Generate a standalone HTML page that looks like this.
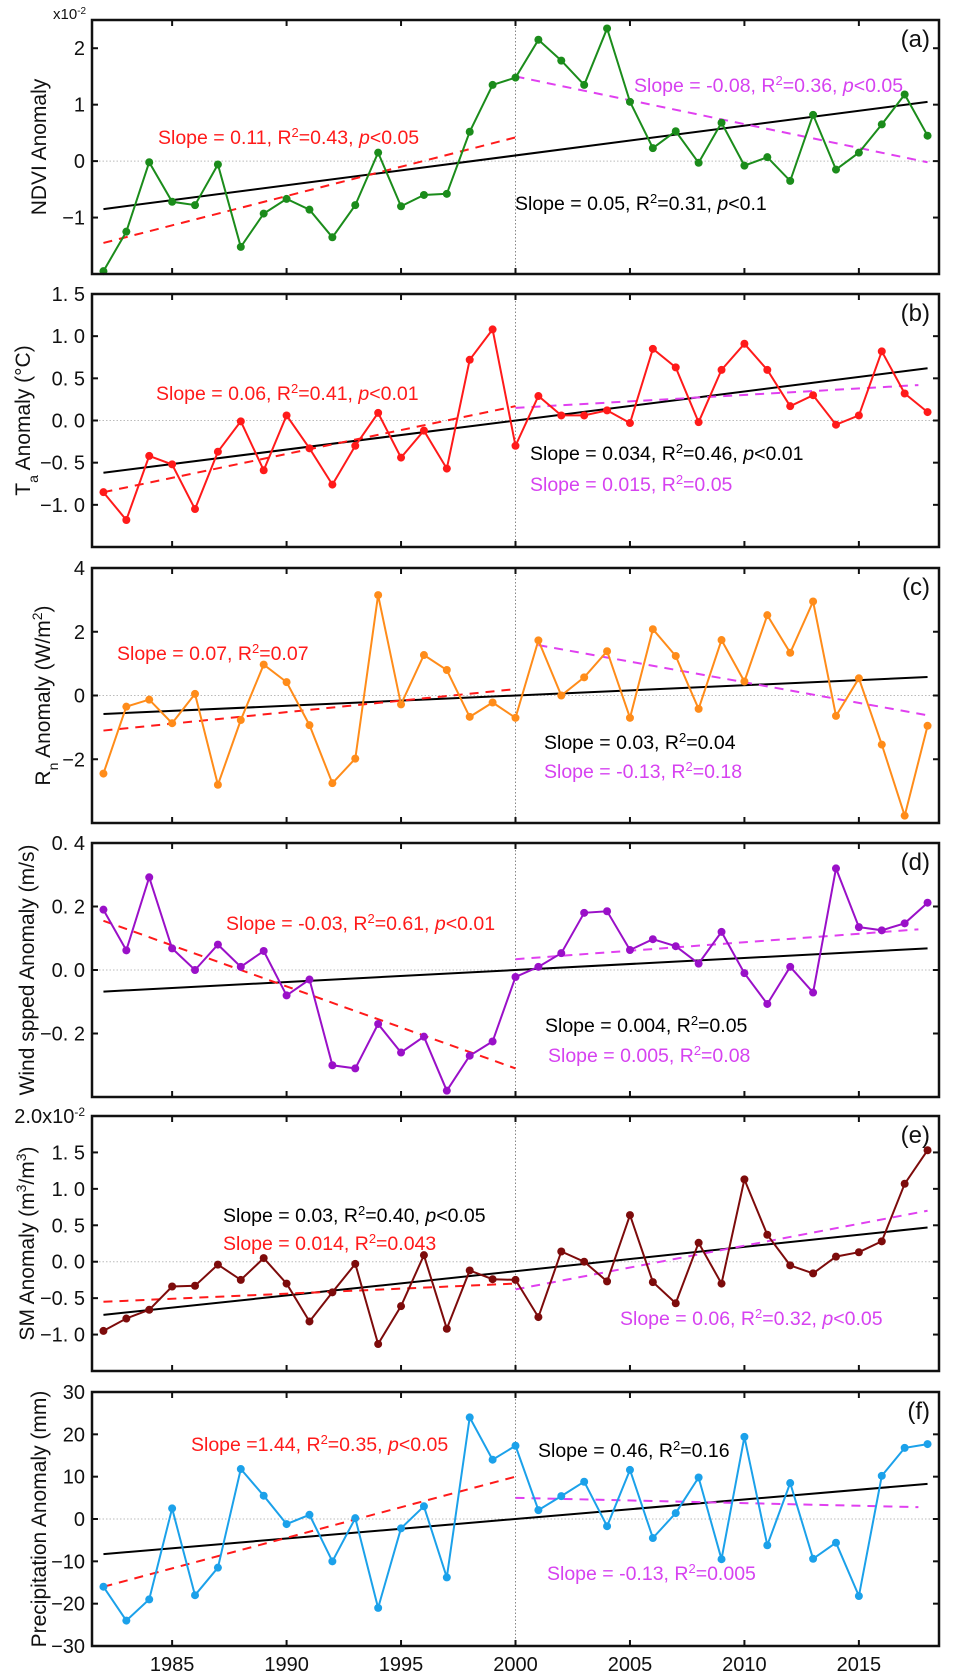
<!DOCTYPE html>
<html><head><meta charset="utf-8"><title>Anomaly panels</title>
<style>
html,body{margin:0;padding:0;background:#fff;}
svg{display:block;font-family:"Liberation Sans",sans-serif;}
</style></head>
<body>
<svg id="chart" width="958" height="1680" viewBox="0 0 958 1680" xmlns="http://www.w3.org/2000/svg"></svg>
<script>
const years = [1982,1983,1984,1985,1986,1987,1988,1989,1990,1991,1992,1993,1994,1995,1996,1997,1998,1999,2000,2001,2002,2003,2004,2005,2006,2007,2008,2009,2010,2011,2012,2013,2014,2015,2016,2017,2018];
const ndviValues = [-1.95,-1.25,-0.02,-0.72,-0.78,-0.06,-1.52,-0.93,-0.67,-0.86,-1.35,-0.78,0.15,-0.8,-0.6,-0.58,0.52,1.35,1.48,2.15,1.78,1.35,2.35,1.05,0.23,0.53,-0.03,0.68,-0.08,0.07,-0.35,0.82,-0.15,0.15,0.65,1.18,0.45];
const taValues = [-0.85,-1.18,-0.42,-0.52,-1.05,-0.37,-0.01,-0.59,0.06,-0.33,-0.76,-0.3,0.09,-0.44,-0.12,-0.57,0.72,1.08,-0.3,0.29,0.06,0.06,0.12,-0.03,0.85,0.63,-0.02,0.6,0.91,0.6,0.17,0.3,-0.05,0.06,0.82,0.32,0.1];
const rnValues = [-2.45,-0.35,-0.13,-0.87,0.05,-2.8,-0.77,0.97,0.42,-0.93,-2.75,-1.98,3.15,-0.28,1.27,0.8,-0.67,-0.22,-0.7,1.73,0.0,0.57,1.39,-0.7,2.08,1.24,-0.42,1.74,0.44,2.52,1.34,2.95,-0.64,0.54,-1.54,-3.77,-0.95];
const windValues = [0.19,0.062,0.292,0.068,0.0,0.08,0.01,0.06,-0.08,-0.03,-0.3,-0.31,-0.17,-0.26,-0.21,-0.38,-0.27,-0.225,-0.022,0.01,0.053,0.18,0.185,0.063,0.097,0.075,0.02,0.12,-0.01,-0.107,0.01,-0.071,0.32,0.135,0.125,0.147,0.212];
const smValues = [-0.95,-0.78,-0.66,-0.34,-0.33,-0.04,-0.25,0.05,-0.3,-0.82,-0.42,-0.03,-1.13,-0.61,0.09,-0.92,-0.12,-0.24,-0.25,-0.76,0.14,0.0,-0.27,0.64,-0.28,-0.57,0.26,-0.3,1.13,0.37,-0.05,-0.16,0.07,0.13,0.28,1.07,1.53];
const precipValues = [-16,-24,-19,2.5,-18,-11.5,11.8,5.5,-1.2,1.0,-10,0.2,-21,-2.2,3.0,-13.8,24,14,17.3,2.1,5.4,8.8,-1.7,11.6,-4.5,1.4,9.8,-9.5,19.4,-6.2,8.5,-9.4,-5.6,-18.2,10.2,16.8,17.7];
// trend endpoints: [startYear, startValue, endYear, endValue]
const ndviTrends = {all:[1982,-0.85,2018,1.05], early:[1982,-1.45,2000,0.42], late:[2000,1.5,2018,-0.02]};
const taTrends = {all:[1982,-0.62,2018,0.62], early:[1982,-0.85,2000,0.17], late:[2000,0.15,2017.6,0.42]};
const rnTrends = {all:[1982,-0.58,2018,0.58], early:[1982,-1.1,2000,0.2], late:[2001,1.58,2018,-0.62]};
const windTrends = {all:[1982,-0.068,2018,0.068], early:[1982,0.155,2000,-0.31], late:[2000,0.034,2017.6,0.128]};
const smTrends = {all:[1982,-0.73,2018,0.47], early:[1982,-0.55,2000,-0.3], late:[2000,-0.38,2018,0.70]};
const precipTrends = {all:[1982,-8.3,2018,8.3], early:[1982,-16,2000,10], late:[2000,5.0,2017.6,2.8]};
const xTickValues = [1985,1990,1995,2000,2005,2010,2015];
const ndviTicks = [2,1,0,-1]; const ndviTickLabels = ["2","1","0","\u22121"];
const taTicks = [1.5,1.0,0.5,0,-0.5,-1.0]; const taTickLabels = ["1. 5","1. 0","0. 5","0. 0","\u22120. 5","\u22121. 0"];
const rnTicks = [4,2,0,-2]; const rnTickLabels = ["4","2","0","\u22122"];
const windTicks = [0.4,0.2,0,-0.2]; const windTickLabels = ["0. 4","0. 2","0. 0","\u22120. 2"];
const smTicks = [2.0,1.5,1.0,0.5,0,-0.5,-1.0]; const smTickLabels = ["2.0x10","1. 5","1. 0","0. 5","0. 0","\u22120. 5","\u22121. 0"];
const precipTicks = [30,20,10,0,-10,-20,-30]; const precipTickLabels = ["30","20","10","0","\u221210","\u221220","\u221230"];

const NS="http://www.w3.org/2000/svg";
const svg=document.getElementById('chart');
const X0=92,X1=939,XMIN=1981.5,XMAX=2018.5;
function xs(v){return X0+(v-XMIN)/(XMAX-XMIN)*(X1-X0);}
function mk(tag,attrs,parent){const e=document.createElementNS(NS,tag);for(const k in attrs)e.setAttribute(k,attrs[k]);(parent||svg).appendChild(e);return e;}

const panels=[
 {key:'ndvi',letter:'(a)',top:20,bottom:274,ymin:-2,ymax:2.5,vals:ndviValues,color:'#1b8c1b',trends:ndviTrends,ticks:ndviTicks,labels:ndviTickLabels,ylx:38,
  texts:[{c:'#ff1a1a',x:158,y:137,t:'Slope = 0.11, R|2|=0.43, *p*<0.05'},{c:'#d642f0',x:634,y:85,t:'Slope = -0.08, R|2|=0.36, *p*<0.05'},{c:'#000',x:515,y:203,t:'Slope = 0.05, R|2|=0.31, *p*<0.1'}]},
 {key:'ta',letter:'(b)',top:294,bottom:547,ymin:-1.5,ymax:1.5,vals:taValues,color:'#ff1a1a',trends:taTrends,ticks:taTicks,labels:taTickLabels,ylx:22,
  texts:[{c:'#ff1a1a',x:156,y:393,t:'Slope = 0.06, R|2|=0.41, *p*<0.01'},{c:'#000',x:530,y:453,t:'Slope = 0.034, R|2|=0.46, *p*<0.01'},{c:'#d642f0',x:530,y:484,t:'Slope = 0.015, R|2|=0.05'}]},
 {key:'rn',letter:'(c)',top:568,bottom:823,ymin:-4,ymax:4,vals:rnValues,color:'#ff8c1a',trends:rnTrends,ticks:rnTicks,labels:rnTickLabels,ylx:42,
  texts:[{c:'#ff1a1a',x:117,y:653,t:'Slope = 0.07, R|2|=0.07'},{c:'#000',x:544,y:742,t:'Slope = 0.03, R|2|=0.04'},{c:'#d642f0',x:544,y:771,t:'Slope = -0.13, R|2|=0.18'}]},
 {key:'wind',letter:'(d)',top:843,bottom:1097,ymin:-0.4,ymax:0.4,vals:windValues,color:'#9a10c8',trends:windTrends,ticks:windTicks,labels:windTickLabels,ylx:26,
  texts:[{c:'#ff1a1a',x:226,y:923,t:'Slope = -0.03, R|2|=0.61, *p*<0.01'},{c:'#000',x:545,y:1025,t:'Slope = 0.004, R|2|=0.05'},{c:'#d642f0',x:548,y:1055,t:'Slope = 0.005, R|2|=0.08'}]},
 {key:'sm',letter:'(e)',top:1116,bottom:1371,ymin:-1.5,ymax:2.0,vals:smValues,color:'#7d0b0b',trends:smTrends,ticks:smTicks,labels:smTickLabels,ylx:26,
  texts:[{c:'#000',x:223,y:1215,t:'Slope = 0.03, R|2|=0.40, *p*<0.05'},{c:'#ff1a1a',x:223,y:1243,t:'Slope = 0.014, R|2|=0.043'},{c:'#d642f0',x:620,y:1318,t:'Slope = 0.06, R|2|=0.32, *p*<0.05'}]},
 {key:'precip',letter:'(f)',top:1392,bottom:1646,ymin:-30,ymax:30,vals:precipValues,color:'#1ba1ea',trends:precipTrends,ticks:precipTicks,labels:precipTickLabels,ylx:38,
  texts:[{c:'#ff1a1a',x:191,y:1444,t:'Slope =1.44, R|2|=0.35, *p*<0.05'},{c:'#000',x:538,y:1450,t:'Slope = 0.46, R|2|=0.16'},{c:'#d642f0',x:547,y:1573,t:'Slope = -0.13, R|2|=0.005'}]}
];

function richText(parent,str){
  const parts=str.split(/(\|[^|]*\||\*[^*]*\*)/);
  parts.forEach(p=>{ if(!p) return;
    if(p[0]==='|'){const s=mk('tspan',{'baseline-shift':'super','font-size':'13'},parent);s.textContent=p.slice(1,-1);}
    else if(p[0]==='*'){const s=mk('tspan',{'font-style':'italic'},parent);s.textContent=p.slice(1,-1);}
    else {const s=mk('tspan',{},parent);s.textContent=p;}
  });
}

const yLabelDefs={
 ndvi:[['NDVI Anomaly',null]],
 ta:[['T',null],['a','sub'],[' Anomaly (\u00B0C)',null]],
 rn:[['R',null],['n','sub'],[' Anomaly (W/m',null],['2','super'],[')',null]],
 wind:[['Wind spped Anomaly (m/s)',null]],
 sm:[['SM Anomaly (m',null],['3','super'],['/m',null],['3','super'],[')',null]],
 precip:[['Precipitation Anomaly (mm)',null]]
};

panels.forEach(p=>{
  const g=mk('g',{});
  
  
  const ys=v=>p.bottom-(v-p.ymin)/(p.ymax-p.ymin)*(p.bottom-p.top);
  const z=mk('line',{x1:X0,x2:X1,y1:ys(0),y2:ys(0),stroke:'#bbb','stroke-width':1,'stroke-dasharray':'1.5,2'},g);
  
  
  const v=mk('line',{x1:xs(2000),x2:xs(2000),y1:p.top,y2:p.bottom,stroke:'#888','stroke-width':1,'stroke-dasharray':'1.5,2'},g);
  
  
  const tr=[['all','#000',null],['early','#ff1a1a','9,7'],['late','#e040f0','9,7']];
  tr.forEach(([k,c,d])=>{const t=p.trends[k];
    const l=mk('line',{x1:xs(t[0]),y1:ys(t[1]),x2:xs(t[2]),y2:ys(t[3]),stroke:c,'stroke-width':2},g);
    if(d)l.setAttribute('stroke-dasharray',d);
    
    
  });
  const pts=years.map((y,i)=>xs(y).toFixed(1)+','+ys(p.vals[i]).toFixed(1)).join(' ');
  const pl=mk('polyline',{points:pts,fill:'none',stroke:p.color,'stroke-width':2},g);
  
  
  years.forEach((y,i)=>{
    const c=mk('circle',{cx:xs(y),cy:ys(p.vals[i]),r:4,fill:p.color},g);
    
    
  });
  const fr=mk('rect',{x:X0,y:p.top,width:X1-X0,height:p.bottom-p.top,fill:'none',stroke:'#111','stroke-width':2.5},g);
  
  
  p.ticks.forEach((t,i)=>{
    const y=ys(t);
    mk('line',{x1:X0,x2:X0+6,y1:y,y2:y,stroke:'#111','stroke-width':2},g);
    mk('line',{x1:X1-6,x2:X1,y1:y,y2:y,stroke:'#111','stroke-width':2},g);
    const tx=mk('text',{x:X0-7,y:y+7,'text-anchor':'end','font-size':20,fill:'#111'},g);
    
    
    if(p.key==='sm'&&i===0){tx.textContent='2.0x10';const s=mk('tspan',{'baseline-shift':'super','font-size':'12'},tx);s.textContent='-2';}
    else tx.textContent=p.labels[i];
  });
  xTickValues.forEach(t=>{
    mk('line',{x1:xs(t),x2:xs(t),y1:p.bottom,y2:p.bottom-6,stroke:'#111','stroke-width':2},g);
    mk('line',{x1:xs(t),x2:xs(t),y1:p.top,y2:p.top+6,stroke:'#111','stroke-width':2},g);
  });
  const cy=(p.top+p.bottom)/2;
  const yl=mk('text',{x:0,y:0,transform:'translate('+(p.ylx+8)+','+cy+') rotate(-90)','text-anchor':'middle','font-size':21,fill:'#111'},g);
  
  
  yLabelDefs[p.key].forEach(([s,b])=>{const ts=mk('tspan',b?{'baseline-shift':b,'font-size':'14'}:{},yl);ts.textContent=s;});
  const lt=mk('text',{x:930,y:p.top+27,'text-anchor':'end','font-size':24,fill:'#111'},g);
  lt.textContent=p.letter;
  
  
  p.texts.forEach((a,i)=>{
    const t=mk('text',{x:a.x,y:a.y+7,'font-size':19.5,fill:a.c},g);
    richText(t,a.t);
    
    
  });
});
const mult=mk('text',{x:53,y:19,'font-size':15,fill:'#111'});
mult.textContent='x10';
const ms=mk('tspan',{'baseline-shift':'super','font-size':'10'},mult);ms.textContent='-2';


xTickValues.forEach(t=>{
  const tx=mk('text',{x:xs(t),y:1671,'text-anchor':'middle','font-size':20,fill:'#111'});
  tx.textContent=String(t);
  
  
});
</script>
</body></html>
